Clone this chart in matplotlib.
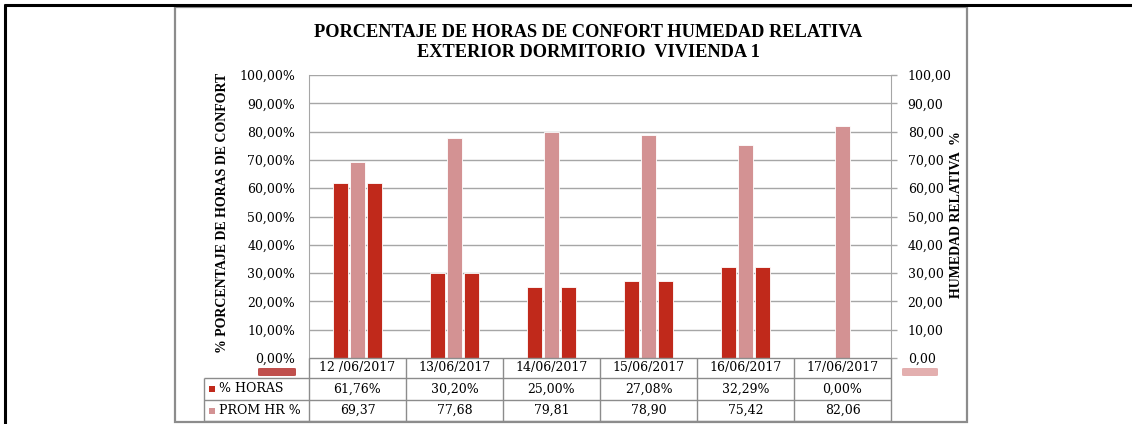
import matplotlib
matplotlib.use("Agg")
import matplotlib.pyplot as plt
from matplotlib.lines import Line2D
from matplotlib.patches import Rectangle, FancyBboxPatch
import numpy as np

# ---- data ----
dates = ["12 /06/2017", "13/06/2017", "14/06/2017", "15/06/2017", "16/06/2017", "17/06/2017"]
pct_horas = [61.76, 30.20, 25.00, 27.08, 32.29, 0.00]
prom_hr = [69.37, 77.68, 79.81, 78.90, 75.42, 82.06]
series_names = ["% HORAS", "PROM HR %"]
title = "PORCENTAJE DE HORAS DE CONFORT HUMEDAD RELATIVA\nEXTERIOR DORMITORIO  VIVIENDA 1"
ylabel_left = "% PORCENTAJE DE HORAS DE CONFORT"
ylabel_right = "HUMEDAD RELATIVA  %"
left_ticks = [0, 10, 20, 30, 40, 50, 60, 70, 80, 90, 100]

RED = "#C0291B"
PINK = "#D39293"
GRID = "#A6A6A6"
W, H = 1132, 424
SERIF_B = "Liberation Serif"
SERIF = "DejaVu Serif"

fig = plt.figure(figsize=(W / 100, H / 100), dpi=100)


def fx(x):
    return x / W


def fy(y):
    return 1 - y / H


def hline(x0, x1, y, color="#7F7F7F", lw=1.0):
    fig.add_artist(Line2D([fx(x0), fx(x1)], [fy(y), fy(y)], color=color, lw=lw,
                          transform=fig.transFigure, solid_capstyle="butt"))


def vline(x, y0, y1, color="#7F7F7F", lw=1.0):
    fig.add_artist(Line2D([fx(x), fx(x)], [fy(y0), fy(y1)], color=color, lw=lw,
                          transform=fig.transFigure, solid_capstyle="butt"))


# outer black lines
hline(4, W, 5, color="black", lw=2.2)
vline(5, 4, H, color="black", lw=2.2)
# chart frame
fig.add_artist(Rectangle((fx(175), fy(422)), fx(967) - fx(175), fy(7) - fy(422),
                         transform=fig.transFigure, fill=False, edgecolor="#8C8C8C", lw=1.6))

# plot area
L, R, T, B = 309, 891, 75, 358
ax = fig.add_axes([fx(L), fy(B), fx(R) - fx(L), fy(T) - fy(B)])
ax2 = ax.twinx()

x = np.arange(len(dates))
bw = 0.155
off = 0.18
ax.set_xlim(-0.5, len(dates) - 0.5)
ax.set_ylim(0, 100)
ax2.set_ylim(0, 100)

ax.set_axisbelow(True)
for t in left_ticks[1:]:
    ax.axhline(t, color=GRID, lw=1.0, zorder=0)

ax.bar(x - off, pct_horas, bw, color=RED, edgecolor="white", linewidth=0.6, zorder=2)
ax.bar(x + off, pct_horas, bw, color=RED, edgecolor="white", linewidth=0.6, zorder=2)
ax2.bar(x, prom_hr, bw, color=PINK, edgecolor="white", linewidth=0.6, zorder=2)

ax.set_xticks([])
ax.set_yticks(left_ticks)
ax.set_yticklabels([f"{v:.2f}".replace(".", ",") + "%" for v in left_ticks],
                   fontfamily=SERIF, fontsize=9)
ax.tick_params(axis="y", length=0, pad=10)
ax2.set_yticks(left_ticks)
ax2.set_yticklabels([f"{v:.2f}".replace(".", ",") for v in left_ticks],
                    fontfamily=SERIF, fontsize=9)
ax2.tick_params(axis="y", length=4, width=1.0, color=GRID, pad=8)
ax2.set_xticks([])

for a in (ax, ax2):
    for s in a.spines.values():
        s.set_visible(False)
ax.spines["left"].set_visible(True)
ax.spines["left"].set_color(GRID)
ax2.spines["right"].set_visible(True)
ax2.spines["right"].set_color(GRID)

# axis labels
fig.text(fx(223), fy(213), ylabel_left, rotation=90, ha="center", va="center",
         fontfamily=SERIF_B, fontweight="bold", fontsize=10)
fig.text(fx(956), fy(215), ylabel_right, rotation=90, ha="center", va="center",
         fontfamily=SERIF_B, fontweight="bold", fontsize=10)

# title
fig.text(fx(588), fy(42.5), title, ha="center", va="center", fontfamily=SERIF_B,
         fontweight="bold", fontsize=13.2, linespacing=1.3)

# legend bars next to 0 ticks
fig.add_artist(FancyBboxPatch((fx(258), fy(376)), fx(296) - fx(258), fy(368) - fy(376),
                              boxstyle="round,pad=0,rounding_size=0.002",
                              transform=fig.transFigure, facecolor="#C0504D", edgecolor="none"))
fig.add_artist(FancyBboxPatch((fx(902), fy(376)), fx(938) - fx(902), fy(368) - fy(376),
                              boxstyle="round,pad=0,rounding_size=0.002",
                              transform=fig.transFigure, facecolor="#E3AFAF", edgecolor="none"))

# data table
TL = 204
rows_y = [358, 378, 400, 421]
n = len(dates)
colw = (R - L) / n
TG = "#8C8C8C"
hline(L, R, rows_y[0], color=TG)
hline(TL, R, rows_y[1], color=TG)
hline(TL, R, rows_y[2], color=TG)
hline(TL, R, rows_y[3], color=TG)
vline(TL, rows_y[1], rows_y[3], color=TG)
for i in range(n + 1):
    vline(L + i * colw, rows_y[0], rows_y[3], color=TG)

row_c = [(rows_y[k] + rows_y[k + 1]) / 2 for k in range(3)]
for i in range(n):
    cx = L + (i + 0.5) * colw
    fig.text(fx(cx), fy(row_c[0]), dates[i], ha="center", va="center",
             fontfamily=SERIF, fontsize=9)
    fig.text(fx(cx), fy(row_c[1]), f"{pct_horas[i]:.2f}".replace(".", ",") + "%",
             ha="center", va="center", fontfamily=SERIF, fontsize=9)
    fig.text(fx(cx), fy(row_c[2]), f"{prom_hr[i]:.2f}".replace(".", ","),
             ha="center", va="center", fontfamily=SERIF, fontsize=9)

for k, (name, col) in enumerate(zip(series_names, [RED, PINK])):
    yc = row_c[k + 1]
    fig.add_artist(Rectangle((fx(209), fy(yc + 3)), fx(215) - fx(209), fy(yc - 3) - fy(yc + 3),
                             transform=fig.transFigure, facecolor=col, edgecolor="none"))
    fig.text(fx(219), fy(yc), name, ha="left", va="center", fontfamily=SERIF, fontsize=9)

fig.savefig("out.png", dpi=100)
